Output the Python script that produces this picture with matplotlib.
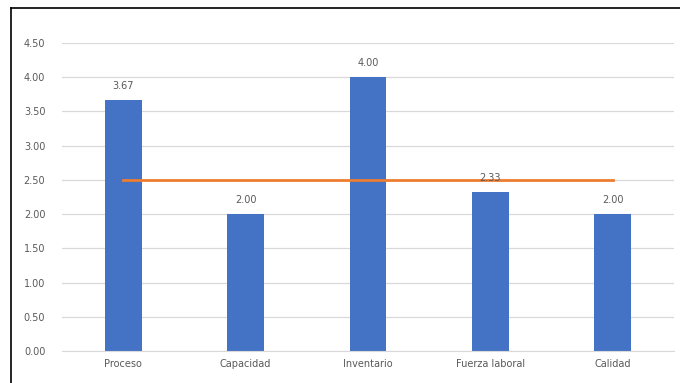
import matplotlib
matplotlib.use("Agg")
import matplotlib.pyplot as plt
from matplotlib.lines import Line2D

categorias = ["Proceso", "Capacidad", "Inventario", "Fuerza laboral", "Calidad"]
puntajes = [3.67, 2.00, 4.00, 2.33, 2.00]
promedio = [2.50, 2.50, 2.50, 2.50, 2.50]
yticks = [0.0, 0.5, 1.0, 1.5, 2.0, 2.5, 3.0, 3.5, 4.0, 4.5]

W, H = 680, 383
fig = plt.figure(figsize=(W / 100, H / 100), dpi=100)
fig.patch.set_facecolor("white")

ax = fig.add_axes([62 / W, 32 / H, 612 / W, 308 / H])
x = list(range(len(categorias)))

ax.bar(x, puntajes, width=0.30, color="#4472C4", zorder=2)
ax.plot(x, promedio, color="#ED7D31", linewidth=2, zorder=3)

for xi, v in zip(x, puntajes):
    ax.text(xi, v + 0.13, f"{v:.2f}", ha="center", va="bottom",
            fontsize=7, color="#595959", zorder=4)

ax.set_xlim(-0.5, len(categorias) - 0.5)
ax.set_ylim(0, 4.5)
ax.set_yticks(yticks)
ax.set_yticklabels([f"{t:.2f}" for t in yticks])
ax.set_xticks(x)
ax.set_xticklabels(categorias)
ax.tick_params(axis="both", length=0, labelsize=7, labelcolor="#595959")
ax.tick_params(axis="y", pad=12)
ax.tick_params(axis="x", pad=6)

ax.grid(axis="y", color="#D9D9D9", linewidth=0.9, zorder=0)
ax.set_axisbelow(True)
for s in ["top", "right", "left"]:
    ax.spines[s].set_visible(False)
ax.spines["bottom"].set_color("#D9D9D9")

# frame around the chart area
fig.add_artist(Line2D([11 / W, 1.0], [1 - 8 / H, 1 - 8 / H], color="black",
                      linewidth=1.2, transform=fig.transFigure))
fig.add_artist(Line2D([11 / W, 11 / W], [0, 1 - 8 / H], color="black",
                      linewidth=1.2, transform=fig.transFigure))

fig.savefig("out.png", dpi=100, facecolor="white")
